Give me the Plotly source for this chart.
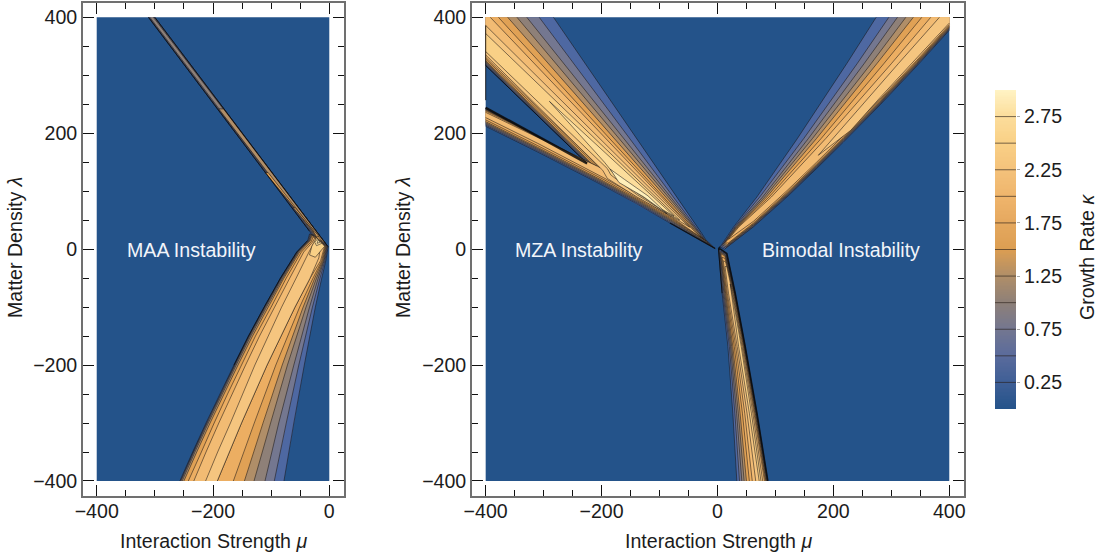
import plotly.graph_objects as go

# ---------- labels / ticks ----------
XTICKS_LEFT = [-400, -200, 0]
XTICKS_RIGHT = [-400, -200, 0, 200, 400]
YTICKS = [-400, -200, 0, 200, 400]
MINOR_LEFT = [-400, -350, -300, -250, -200, -150, -100, -50, 0]
MINOR_RIGHT = [-400, -350, -300, -250, -200, -150, -100, -50, 0, 50, 100, 150, 200, 250, 300, 350, 400]
MINOR_Y = MINOR_RIGHT
LEGEND_TICKS = [0.25, 0.75, 1.25, 1.75, 2.25, 2.75]
LEVELS = [0.25, 0.5, 0.75, 1.0, 1.25, 1.5, 1.75, 2.0, 2.25, 2.5, 2.75]
BASE_COLOR = "#24538A"
BAND_COLORS = ["#4E68A2", "#747790", "#8E8078", "#B08E68", "#E0A155", "#ECAE62",
               "#F2BB73", "#F5C57F", "#F9D086", "#FCDD9B", "#FFEFB9"]
LEGEND_STOPS = ["#24538A", "#3F5F96", "#5A6B9C", "#747790", "#8E8078", "#B08E68", "#DC9E52",
                "#E5A85F", "#EFB56C", "#F4C27B", "#F9D086", "#FCDD9B", "#FFF3C4"]
FRAME_LEFT = [(-400, -400), (0, -400), (0, 400), (-400, 400)]
FRAME_RIGHT = [(-400, -400), (400, -400), (400, 400), (-400, 400)]

# ---------- left panel iso-contours (mu, lambda) ----------
MAA_ARM = [
    (0.25, [(-311, 400), (-34, 31), (-20, 10), (-2, 4), (-300, 400)]),
    (0.5, [(-310, 400), (-33, 32), (-20, 12), (-3.5, 6), (-301, 400)]),
    (0.75, [(-308.5, 400), (-32, 33), (-20, 14), (-5, 8), (-302.5, 400)]),
    (1.0, [(-190, 242), (-31, 34), (-20, 16), (-7, 10), (-182, 242)]),
    (1.25, [(-110, 132), (-30, 35), (-20, 18), (-12, 13), (-105, 132)]),
    (1.5, [(-62, 72), (-28, 32), (-22, 22), (-18, 22), (-59, 72)]),
]
MAA_LOBE = [
    (0.25, [(-257, -400), (-235, -350), (-212, -300), (-188, -250), (-164, -200), (-139, -150), (-112, -100), (-84, -50), (-56, -5), (-37, 15), (-34, 26), (-28, 24), (-2, 4), (-6, -20), (-13, -50), (-24, -100), (-43, -200), (-61, -300), (-78, -400)]),
    (0.5, [(-256, -400), (-234, -350), (-211, -300), (-187, -250), (-163, -200), (-138, -150), (-111, -100), (-83, -50), (-55, -5), (-36, 15), (-33, 26), (-27, 24), (-3, 4), (-7.5, -20), (-16, -50), (-29, -100), (-52.5, -200), (-74, -300), (-94.6, -400)]),
    (0.75, [(-255, -400), (-233, -350), (-210, -300), (-186, -250), (-162, -200), (-137, -150), (-110, -100), (-82, -50), (-54, -5), (-35, 15), (-32, 25), (-26, 23), (-4, 4), (-9, -20), (-19, -50), (-34, -100), (-61, -200), (-87, -300), (-110.6, -400)]),
    (1.0, [(-253, -400), (-231, -350), (-208, -300), (-184, -250), (-160, -200), (-135, -150), (-108, -100), (-80, -50), (-53, -5), (-34, 15), (-31, 24), (-25, 22), (-5, 4), (-10, -20), (-22, -50), (-40, -100), (-72, -200), (-101, -300), (-129.5, -400)]),
    (1.25, [(-250, -400), (-228, -350), (-205, -300), (-181, -250), (-157, -200), (-132, -150), (-105, -100), (-78, -50), (-51, -5), (-33, 14), (-30, 23), (-24, 21), (-6, 4), (-11.5, -20), (-25, -50), (-45, -100), (-81, -200), (-114, -300), (-146, -400)]),
    (1.5, [(-242.5, -400), (-220, -350), (-198, -300), (-175, -250), (-151, -200), (-127, -150), (-100, -100), (-74, -50), (-48, -5), (-31, 13), (-28, 21), (-22, 19), (-7, 4.5), (-13, -20), (-28, -50), (-51, -100), (-92, -200), (-129, -300), (-165, -400)]),
    (1.75, [(-233, -400), (-212, -350), (-190, -300), (-167, -250), (-144, -200), (-120, -150), (-94, -100), (-68, -50), (-44, -5), (-29, 12), (-25, 19), (-20, 17), (-8, 5), (-15, -20), (-33, -50), (-59, -100), (-107, -200), (-151, -300), (-192.6, -400)]),
    (2.0, [(-212.7, -400), (-192, -350), (-170, -300), (-149, -250), (-128, -200), (-105, -150), (-82, -100), (-57, -50), (-35, -5), (-27, 10), (-14, 12), (-18, -15), (-33, -50), (-59, -100), (-107, -200), (-151, -300), (-192.6, -400)]),
    (2.25, [(-22, 20), (-8, 5), (-24, -14), (-34, -10), (-30, 5)]),
    (2.5, [(-20, 18), (-13, 10), (-22, 6), (-25, 12)]),
    (2.75, [(-19, 16), (-16, 12), (-21, 10)]),
]
MAA_DARK = [
    ([(-311, 400), (-34, 31)], 0.9),
    ([(-300, 400), (-2, 4)], 0.9),
    ([(-164, -200), (-139, -150), (-112, -100), (-84, -50), (-56, -5), (-37, 15)], 0.9),
]

# ---------- right panel iso-contours (mu, lambda) ----------
MZA_FAN = [
    (0.25, [(-4, 1), (-82, 45), (-139, 78), (-196, 109), (-311, 168), (-400, 212), (-400, 244), (-225, 148), (-400, 317), (-400, 400), (-283, 400), (-27, 27), (-20, 16)]),
    (0.5, [(-8, 4), (-82, 47), (-139, 80), (-196, 111), (-311, 170), (-400, 214), (-400, 243), (-222, 147), (-400, 319), (-400, 400), (-307.6, 400), (-30, 28), (-22, 17)]),
    (0.75, [(-12, 7), (-82, 49), (-139, 82), (-196, 113), (-311, 172), (-400, 216), (-400, 242), (-219, 146), (-400, 321), (-400, 400), (-329, 400), (-33, 30), (-25, 19)]),
    (1.0, [(-16, 10), (-82, 51), (-139, 84), (-196, 115), (-311, 174), (-400, 218), (-400, 241), (-216, 145), (-400, 323), (-400, 400), (-346, 400), (-36, 32), (-28, 22)]),
    (1.25, [(-20, 14), (-82, 53), (-139, 86), (-196, 117), (-311, 176), (-400, 220), (-400, 240), (-213, 144), (-400, 325), (-400, 400), (-362, 400), (-40, 34), (-32, 24)]),
    (1.5, [(-24, 17), (-82, 55), (-139, 88), (-196, 120), (-311, 179), (-400, 223), (-400, 238.5), (-208, 143), (-400, 328), (-400, 400), (-378, 400), (-45, 37), (-38, 29)]),
    (1.75, [(-28, 20), (-82, 57), (-139, 91), (-196, 123), (-311, 183), (-400, 227), (-400, 236), (-203, 141), (-400, 331), (-400, 400), (-392, 400), (-50, 41), (-44, 35)]),
    (2.0, [(-400, 335), (-400, 386), (-56, 45), (-48, 38), (-82, 58), (-139, 90), (-190, 122), (-198, 136)]),
    (2.25, [(-400, 341), (-400, 372), (-65, 50), (-90, 64), (-139, 94), (-184, 128), (-190, 139)]),
    (2.5, [(-290, 255), (-75, 57), (-100, 71), (-139, 97), (-175, 125), (-195, 150)]),
    (2.75, [(-185, 138), (-170, 115), (-127, 90), (-87, 61), (-120, 92), (-160, 120)]),
]
BIMODAL = [
    (0.25, [(273.8, 400), (223, 320), (138, 191), (68, 90), (28, 38.5), (4.7, 4), (12, 0), (62, 38.5), (120, 90), (171, 139), (217.5, 185), (280.7, 249), (344, 316), (400, 377.6), (400, 400)]),
    (0.5, [(295.7, 400), (241, 320), (149, 191), (73, 90), (30, 38.5), (7, 5), (14, 2), (62, 39.5), (120, 91.5), (171, 140.5), (217.5, 186.5), (280.7, 250.5), (344, 317.5), (400, 379), (400, 400)]),
    (0.75, [(310.6, 400), (253, 320), (157, 191), (78, 90), (31.5, 38.5), (9, 7), (15, 4), (62, 41), (120, 93), (171, 142), (217.5, 188), (280.7, 252), (344, 319), (400, 380.5), (400, 400)]),
    (1.0, [(325, 400), (265, 320), (164, 191), (81.5, 90), (33, 38.5), (11, 9), (16, 6), (62, 42), (120, 94.5), (171, 143.5), (217.5, 189.5), (280.7, 253.5), (344, 320.5), (400, 382), (400, 400)]),
    (1.25, [(338, 400), (275, 320), (171, 191), (85, 90), (34, 38.5), (13, 11), (17, 8), (62, 43.5), (120, 96), (171, 145), (217.5, 191), (280.7, 255), (344, 322), (400, 383.5), (400, 400)]),
    (1.5, [(352.6, 400), (287, 320), (179, 191), (89, 90), (35.5, 38.5), (15, 13), (18, 10), (62, 45), (120, 98), (171, 147), (217.5, 193), (280.7, 257), (344, 324), (400, 385), (400, 400)]),
    (1.75, [(368, 400), (300, 320), (187, 191), (93, 90), (37, 38.5), (19, 17), (62, 48), (120, 101), (171, 150), (217.5, 196), (280.7, 259), (344, 326), (400, 387), (400, 400)]),
    (2.0, [(383, 400), (312, 320), (174, 162), (230, 205), (281, 262), (344, 330), (400, 390), (400, 400)]),
]
NEEDLE = [
    (0.25, [(33.4, -400), (26.5, -283), (18, -168), (8, -76), (1.7, 1), (5, 0), (16, -7.5), (30.5, -76), (47.7, -168), (68, -283), (86.8, -400)]),
    (0.5, [(38, -400), (30, -283), (20.5, -168), (9.5, -76), (3, -2), (14.5, -8), (30, -76), (47.2, -168), (67.4, -283), (86, -400)]),
    (0.75, [(42, -400), (33, -283), (22.5, -168), (11, -76), (4, -4), (13.5, -9), (29.5, -76), (46.7, -168), (66.8, -283), (85.3, -400)]),
    (1.0, [(46, -400), (36, -283), (24.5, -168), (12.5, -76), (5, -6), (13, -10), (29, -76), (46.1, -168), (66, -283), (84.5, -400)]),
    (1.25, [(50, -400), (39, -283), (26.5, -168), (14, -76), (6, -8), (13, -12), (28.5, -76), (45.5, -168), (65.2, -283), (83.5, -400)]),
    (1.5, [(55, -400), (43, -283), (29, -168), (15.5, -76), (8, -14), (13, -16), (28, -76), (44.8, -168), (64.4, -283), (82.5, -400)]),
    (1.75, [(60, -400), (47, -283), (31.5, -168), (17, -76), (10, -20), (14, -22), (27, -76), (44, -168), (63, -283), (81, -400)]),
    (2.0, [(66, -400), (51, -283), (34, -168), (19, -76), (13, -30), (16, -30), (26, -76), (42.5, -168), (61, -283), (78, -400)]),
    (2.25, [(72, -400), (55, -283), (36.5, -168), (22, -60), (25, -76), (41, -168), (58.5, -283), (75, -400)]),
]
MZA_DARK = [
    ([(-400, 386), (-400, 257)], 1.0),
    ([(-400, 244), (-225, 148)], 2.4),
    ([(-400, 317), (-225, 148)], 1.0),
    ([(-82, 45), (-4, 1)], 1.2),
    ([(2, 0), (5, 0), (16, -7.5), (30.5, -76), (47.7, -168), (68, -283), (86.8, -400)], 1.7),
    ([(1.7, 1), (8, -76)], 1.0),
    ([(4.7, 4), (1.7, 1)], 1.3),
]
LEGEND_Z = [i * 0.0125 for i in range(241)]

FONT = "Liberation Sans"
TEXT = "#1c1c1c"
FS = 19.6


def on_edge(a, b):
    return (a[0] == b[0] and abs(a[0]) == 400) or (a[1] == b[1] and abs(a[1]) == 400)


def add_loop(fig, pts, color, xa, ya):
    closed = list(pts) + [pts[0]]
    fig.add_trace(go.Scatter(x=[p[0] for p in closed], y=[p[1] for p in closed], mode="lines",
                             fill="toself", fillcolor=color, line=dict(width=0),
                             xaxis=xa, yaxis=ya, hoverinfo="skip", showlegend=False))
    lx, ly = [], []
    for i in range(len(closed) - 1):
        a, b = closed[i], closed[i + 1]
        if on_edge(a, b):
            continue
        lx += [a[0], b[0], None]
        ly += [a[1], b[1], None]
    fig.add_trace(go.Scatter(x=lx, y=ly, mode="lines", line=dict(width=0.8, color="rgba(25,20,20,0.68)"),
                             xaxis=xa, yaxis=ya, hoverinfo="skip", showlegend=False))


def add_dark(fig, pts, width, xa, ya):
    fig.add_trace(go.Scatter(x=[p[0] for p in pts], y=[p[1] for p in pts], mode="lines",
                             line=dict(width=width, color="rgba(10,10,12,0.85)"),
                             xaxis=xa, yaxis=ya, hoverinfo="skip", showlegend=False))


def add_frame(fig, pts, xa, ya):
    fig.add_trace(go.Scatter(x=[p[0] for p in pts] + [pts[0][0]], y=[p[1] for p in pts] + [pts[0][1]],
                             mode="lines", fill="toself", fillcolor=BASE_COLOR, line=dict(width=0),
                             xaxis=xa, yaxis=ya, hoverinfo="skip", showlegend=False))


fig = go.Figure()
add_frame(fig, FRAME_LEFT, "x", "y")
add_frame(fig, FRAME_RIGHT, "x2", "y2")

for lev, pts in sorted(MAA_ARM + MAA_LOBE, key=lambda t: t[0]):
    add_loop(fig, pts, BAND_COLORS[LEVELS.index(lev)], "x", "y")
for pts, w in MAA_DARK:
    add_dark(fig, pts, w, "x", "y")
for lev, pts in sorted(MZA_FAN + BIMODAL + NEEDLE, key=lambda t: t[0]):
    add_loop(fig, pts, BAND_COLORS[LEVELS.index(lev)], "x2", "y2")
for pts, w in MZA_DARK:
    add_dark(fig, pts, w, "x2", "y2")

# colour ramp
n = len(LEGEND_STOPS) - 1
fig.add_trace(go.Heatmap(x=[0, 1], y=LEGEND_Z, z=[[v, v] for v in LEGEND_Z], zmin=0, zmax=3,
                         colorscale=[[i / n, c] for i, c in enumerate(LEGEND_STOPS)], showscale=False,
                         xaxis="x3", yaxis="y3", hoverinfo="skip"))
fig.add_trace(go.Scatter(x=[v for l in LEVELS for v in (-0.5, 1.5, None)],
                         y=[v for l in LEVELS for v in (l, l, None)], mode="lines",
                         line=dict(width=0.9, color="rgba(40,30,25,0.7)"), xaxis="x3", yaxis="y3",
                         hoverinfo="skip", showlegend=False))

W, H = 1102, 559


def dx(a, b):
    return [a / W, b / W]


def dy(top, bottom):
    return [1 - bottom / H, 1 - top / H]


def ax(tickvals, minor, rng, domain, anchor, standoff=0):
    return dict(
        range=rng, domain=domain, anchor=anchor, automargin=False, ticklabelstandoff=standoff,
        tickmode="array", tickvals=tickvals, ticktext=[str(v).replace("-", "\u2212") for v in tickvals],
        tickfont=dict(family=FONT, size=FS, color=TEXT), ticks="inside", ticklen=11, tickwidth=1, tickcolor="#111",
        minor=dict(tickmode="array", tickvals=minor, ticks="inside", ticklen=6, tickwidth=1, tickcolor="#111"),
        showline=True, linecolor="#707070", linewidth=1.6, mirror="allticks", showgrid=False, zeroline=False,
    )


def label(text, px, py, angle=0, color=TEXT):
    return dict(text=text, x=px / W, y=1 - py / H, xref="paper", yref="paper", xanchor="center", yanchor="middle",
                showarrow=False, textangle=angle, font=dict(family=FONT, size=FS, color=color))


XT = "Interaction Strength <i>\u03bc</i>"
YT = "Matter Density <i>\u03bb</i>"
WHITE = "#f2f5fa"
fig.update_layout(
    width=W, height=H, margin=dict(l=0, r=0, t=0, b=0), paper_bgcolor="white", plot_bgcolor="white", showlegend=False,
    xaxis=ax(XTICKS_LEFT, MINOR_LEFT, [-423.6, 25.3], dx(83, 344), "y", -3),
    yaxis=ax(YTICKS, MINOR_Y, [-425.9, 424.7], dy(3, 496), "x"),
    xaxis2=ax(XTICKS_RIGHT, MINOR_RIGHT, [-423.6, 425.4], dx(472, 964), "y2", -3),
    yaxis2=ax(YTICKS, MINOR_Y, [-425.9, 424.7], dy(3, 496), "x2"),
    xaxis3=dict(domain=dx(995, 1016), range=[0, 1], anchor="y3", visible=False, fixedrange=True),
    yaxis3=dict(domain=dy(90, 409), range=[0, 3], anchor="x3", side="right", automargin=False,
                tickmode="array", tickvals=LEGEND_TICKS, ticktext=["%.2f" % v for v in LEGEND_TICKS],
                tickfont=dict(family=FONT, size=FS, color=TEXT), ticks="outside", ticklen=3, tickwidth=1, tickcolor="#aaa",
                showgrid=False, zeroline=False, showline=False),
    annotations=[
        label("MAA Instability", 191.5, 249.5, color=WHITE),
        label("MZA Instability", 578.5, 249.5, color=WHITE),
        label("Bimodal Instability", 840.5, 249.5, color=WHITE),
        label(XT, 214, 541),
        label(XT, 718, 541),
        label(YT, 15, 248, -90),
        label(YT, 403, 248, -90),
        label("Growth Rate <i>\u03ba</i>", 1087, 257, -90),
    ],
)
fig.write_html("out.html", config=dict(displayModeBar=False),
               post_script="document.body.style.margin='0';document.body.style.overflow='hidden';")
